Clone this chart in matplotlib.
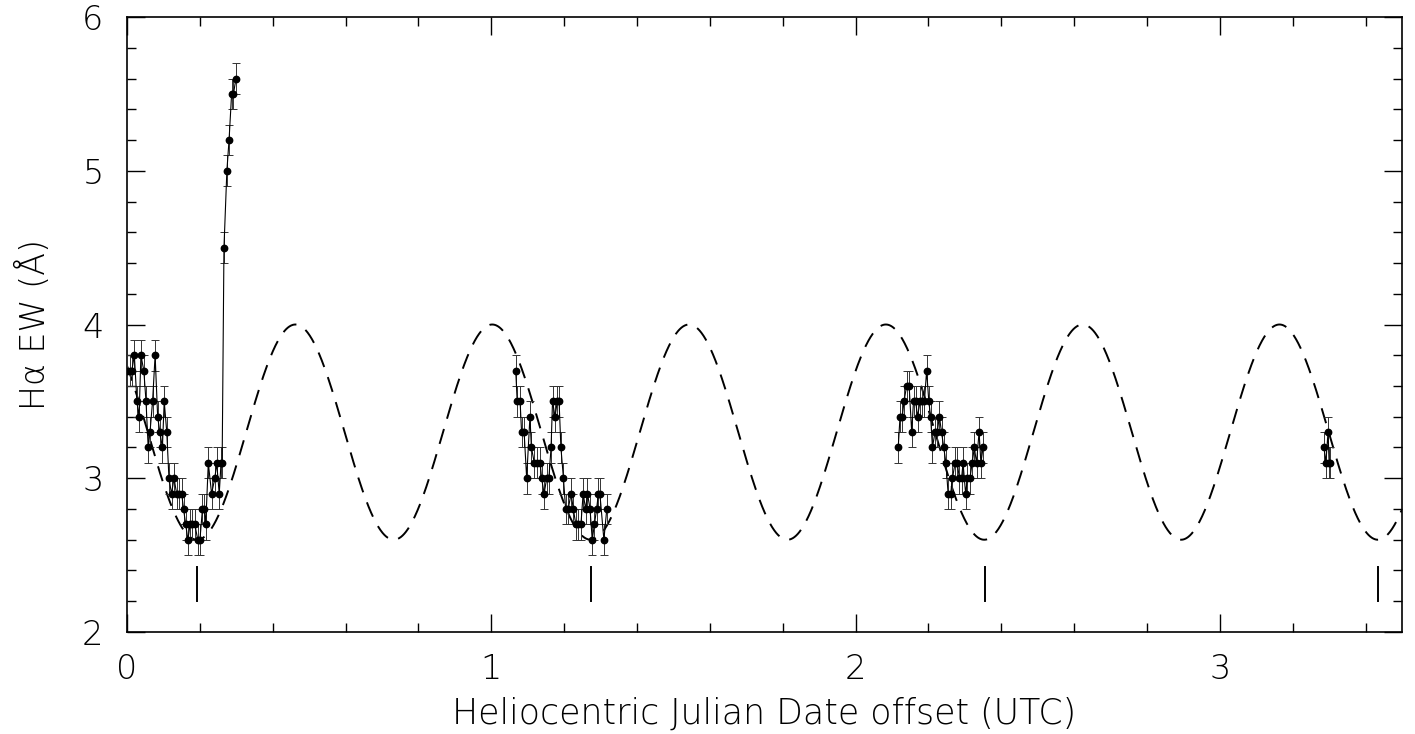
import numpy as np
import matplotlib
matplotlib.use("Agg")
import matplotlib.pyplot as plt

# ---- data ----
night1_x = [0.000, 0.008, 0.013, 0.020, 0.027, 0.033, 0.038, 0.046, 0.052, 0.058,
            0.063, 0.070, 0.077, 0.084, 0.090, 0.097, 0.102, 0.109, 0.115, 0.122,
            0.129, 0.136, 0.143, 0.150, 0.155, 0.161, 0.167, 0.173, 0.179, 0.186,
            0.194, 0.200, 0.207, 0.212, 0.216, 0.223, 0.232, 0.241, 0.246, 0.253,
            0.258, 0.261, 0.266, 0.274, 0.280, 0.287, 0.292, 0.299]
night1_y = [3.7, 3.7, 3.7, 3.8, 3.5, 3.4, 3.8, 3.7, 3.5, 3.2,
            3.3, 3.5, 3.8, 3.4, 3.3, 3.2, 3.5, 3.3, 3.0, 2.9,
            3.0, 2.9, 2.9, 2.9, 2.8, 2.7, 2.6, 2.7, 2.7, 2.7,
            2.6, 2.6, 2.8, 2.8, 2.7, 3.1, 2.9, 3.0, 3.1, 2.9,
            3.1, 3.1, 4.5, 5.0, 5.2, 5.5, 5.5, 5.6]

night2_x = [1.067, 1.071, 1.079, 1.083, 1.090, 1.097, 1.106, 1.110, 1.118, 1.126,
            1.134, 1.138, 1.145, 1.152, 1.158, 1.164, 1.168, 1.175, 1.181, 1.186,
            1.191, 1.198, 1.204, 1.211, 1.219, 1.225, 1.232, 1.239, 1.246, 1.252,
            1.259, 1.264, 1.271, 1.277, 1.283, 1.289, 1.294, 1.298, 1.309, 1.317]
night2_y = [3.7, 3.5, 3.5, 3.3, 3.3, 3.0, 3.4, 3.2, 3.1, 3.1,
            3.1, 3.0, 2.9, 3.0, 3.0, 3.2, 3.5, 3.4, 3.5, 3.5,
            3.2, 3.0, 2.8, 2.8, 2.9, 2.8, 2.7, 2.7, 2.7, 2.9,
            2.8, 2.9, 2.8, 2.6, 2.7, 2.8, 2.9, 2.9, 2.6, 2.8]

night3_x = [2.117, 2.122, 2.128, 2.133, 2.140, 2.147, 2.154, 2.159, 2.165, 2.170,
            2.177, 2.183, 2.189, 2.195, 2.201, 2.206, 2.211, 2.218, 2.224, 2.230,
            2.236, 2.242, 2.248, 2.254, 2.261, 2.266, 2.273, 2.279, 2.285, 2.291,
            2.295, 2.302, 2.307, 2.314, 2.320, 2.326, 2.332, 2.339, 2.344, 2.350]
night3_y = [3.2, 3.4, 3.4, 3.5, 3.6, 3.6, 3.3, 3.5, 3.5, 3.4,
            3.5, 3.5, 3.5, 3.7, 3.5, 3.4, 3.2, 3.3, 3.3, 3.4,
            3.3, 3.2, 3.1, 2.9, 2.9, 3.0, 3.1, 3.1, 3.0, 3.0,
            3.1, 2.9, 3.0, 3.0, 3.1, 3.2, 3.1, 3.3, 3.1, 3.2]

night4_x = [3.286, 3.291, 3.297, 3.300, 3.303]
night4_y = [3.2, 3.1, 3.3, 3.1, 3.1]

ew_error = 0.1

# sinusoidal model: mean, semi-amplitude, period, epoch of minimum
model_mean = 3.3
model_amp = 0.7
model_period = 0.5403
model_t0 = 0.192

# epoch markers (every second minimum)
marker_x = [0.192, 1.273, 2.354, 3.434]
marker_ylo, marker_yhi = 2.2, 2.42

xlim = (0.0, 3.5)
ylim = (2.0, 6.0)

# ---- figure ----
plt.rcParams['font.family'] = ['DejaVu Sans']
fig = plt.figure(figsize=(14.15, 7.34), dpi=100)
ax = fig.add_axes([0.0898, 0.139, 0.9010, 0.8378])

tm = np.linspace(xlim[0], xlim[1], 3000)
ym = model_mean - model_amp * np.cos(2 * np.pi * (tm - model_t0) / model_period)
ax.plot(tm, ym, color='black', lw=1.4, dashes=(8, 5.5), zorder=2)

for xs, ys in [(night1_x, night1_y), (night2_x, night2_y),
               (night3_x, night3_y), (night4_x, night4_y)]:
    ax.errorbar(xs, ys, yerr=ew_error, fmt='-o', color='black', lw=0.8,
                ms=4.6, elinewidth=0.7, ecolor='#333333', capsize=3,
                capthick=0.7, zorder=3)

for mx in marker_x:
    ax.plot([mx, mx], [marker_ylo, marker_yhi], color='black', lw=1.4, zorder=2)

ax.set_xlim(*xlim)
ax.set_ylim(*ylim)
ax.set_xticks([0, 1, 2, 3])
ax.set_yticks([2, 3, 4, 5, 6])
ax.set_xticks(np.arange(0, 3.51, 0.2), minor=True)
ax.set_yticks(np.arange(2, 6.01, 0.2), minor=True)
ax.tick_params(which='both', direction='in', top=True, right=True, width=1.0,
               labelsize=24, colors='black')
ax.tick_params(which='major', length=13)
ax.tick_params(axis='x', which='major', pad=15)
ax.tick_params(axis='y', which='major', pad=17)
ax.tick_params(which='minor', length=6.5)
for lab in ax.get_xticklabels() + ax.get_yticklabels():
    lab.set_fontweight('light')
for s in ax.spines.values():
    s.set_linewidth(1.2)

ax.set_xlabel('Heliocentric Julian Date offset (UTC)', fontsize=25,
              fontweight='light', labelpad=8)
ax.set_ylabel('Hα EW (Å)', fontsize=24, fontweight='light', labelpad=22)

fig.savefig('out.png', dpi=100)
